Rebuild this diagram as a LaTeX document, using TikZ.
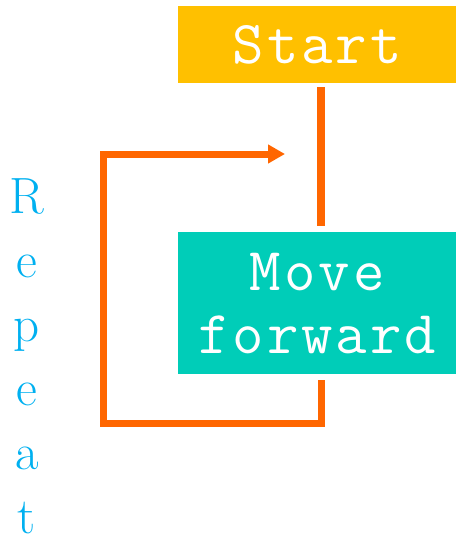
\documentclass[tikz,border=0pt]{standalone}
\usepackage{fontspec}
\usetikzlibrary{arrows.meta}
\newcommand\boxfont{\ttfamily\fontsize{61}{63}\selectfont}
\newcommand\ls{\kern3pt\relax}
\definecolor{startgold}{HTML}{FFC000}
\definecolor{moveteal}{HTML}{00CDB8}
\definecolor{looporange}{HTML}{FF6600}
\definecolor{repeatblue}{HTML}{00B0F0}
\tikzset{
  stepbox/.style={fill=#1, inner sep=0pt, text=white, anchor=north west,
    font=\boxfont, align=center},
  flow/.style={draw=looporange, line width=8pt},
  loopline/.style={draw=looporange, line width=7pt}
}
\begin{document}
\begin{tikzpicture}[x=1pt,y=-1pt]
\useasboundingbox (0,0) rectangle (456,538);
\node[stepbox=startgold, minimum width=278pt, minimum height=77pt] (start) at (178,6)
  {S\ls t\ls a\ls r\ls t};
\node[stepbox=moveteal, minimum width=278pt, minimum height=142pt] (move) at (178,232)
  {M\ls o\ls v\ls e\\f\ls o\ls r\ls w\ls a\ls r\ls d};
\draw[flow, shorten <=4pt, shorten >=6pt] (start.south -| 321,0) -- (move.north -| 321,0);
\coordinate (tip) at (285,154);
\draw[loopline, -{Triangle[length=17pt,width=18pt]}, shorten <=6pt]
  (move.south -| 321,0) |- (103,423) |- (tip);
\node[text=repeatblue, inner sep=0pt, anchor=north, align=center,
  font=\fontsize{51}{64}\selectfont] (repeat) at (27,178) {R\\e\\p\\e\\a\\t};
\end{tikzpicture}
\end{document}
